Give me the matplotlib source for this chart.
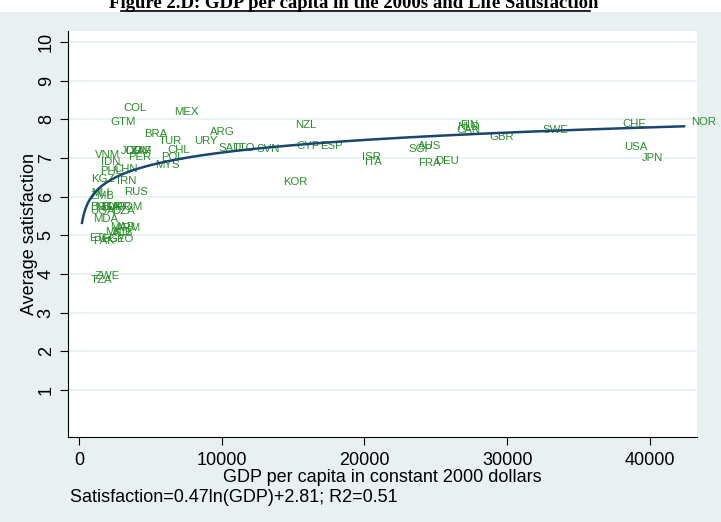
import numpy as np
import matplotlib
matplotlib.use('Agg')
import matplotlib.pyplot as plt
from matplotlib.patches import Rectangle
from matplotlib.lines import Line2D

plt.rcParams['font.family'] = ['Liberation Sans', 'DejaVu Sans']

# data: country code, GDP per capita (constant 2000 $), average satisfaction
countries = ['COL', 'MEX', 'GTM', 'BRA', 'TUR', 'ARG', 'URY', 'SAU', 'TTO', 'SVN',
             'CHL', 'JOR', 'DOM', 'ZAF', 'VNM', 'PER', 'POL', 'MYS', 'IDN', 'CHN',
             'PHL', 'KGZ', 'IRN', 'RUS', 'MLI', 'ZMB', 'BGD', 'NGA', 'BLR', 'UKR',
             'ROM', 'UGA', 'DZA', 'MDA', 'MAR', 'ARM', 'MKD', 'ALB', 'ETH', 'EGY',
             'GEO', 'PAK', 'ZWE', 'TZA', 'NZL', 'CYP', 'ESP', 'ISR', 'ITA', 'KOR',
             'SGP', 'AUS', 'FRA', 'DEU', 'FIN', 'CAN', 'NLD', 'GBR', 'SWE', 'CHE',
             'USA', 'JPN', 'NOR']
gdp = [2600, 6180, 1680, 4070, 5120, 8700, 7580, 9260, 10250, 11930,
       5680, 2460, 2740, 3160, 630, 2950, 5260, 4840, 1050, 1900,
       980, 350, 2180, 2670, 350, 350, 280, 630, 1050, 1470,
       2100, 280, 1820, 490, 1680, 2100, 1330, 1820, 210, 1050,
       1540, 490, 630, 350, 14670, 14740, 16420, 19370, 19580, 13830,
       22600, 23230, 23300, 24490, 26250, 25970, 26040, 28280, 32000, 37610,
       37680, 38950, 42390]
satisfaction = [8.30, 8.20, 7.92, 7.63, 7.43, 7.68, 7.43, 7.25, 7.25, 7.22,
                7.20, 7.17, 7.17, 7.17, 7.07, 7.02, 7.02, 6.81, 6.89, 6.71,
                6.66, 6.45, 6.40, 6.12, 6.10, 6.01, 5.73, 5.73, 5.73, 5.73,
                5.73, 5.63, 5.63, 5.42, 5.22, 5.19, 5.09, 5.06, 4.93, 4.91,
                4.91, 4.86, 3.96, 3.85, 7.86, 7.32, 7.30, 7.02, 6.89, 6.37,
                7.22, 7.30, 6.86, 6.91, 7.86, 7.71, 7.79, 7.53, 7.71, 7.89,
                7.27, 6.99, 7.94]

# fitted log curve, coefficients from the note under the chart
slope = 0.47
intercept = 2.81

fig = plt.figure(figsize=(7.21, 5.22), dpi=100, facecolor='white')
fig.add_artist(Rectangle((0, 0), 1, 1 - 12 / 522, transform=fig.transFigure,
                         facecolor='#e8f0f2', edgecolor='none', zorder=0))

ax = fig.add_axes([68 / 721, 1 - 437 / 522, (697 - 68) / 721, (437 - 31) / 522])
ax.set_facecolor('white')

# labels only (no markers), placed to the right of each point
for c, x, y in zip(countries, gdp, satisfaction):
    ax.annotate(c, (x, y), xytext=(5, 0), textcoords='offset points',
                ha='left', va='center', fontsize=8.2, color='#2a8c2a',
                annotation_clip=False, zorder=3)

xs = np.exp(np.linspace(np.log(min(gdp)), np.log(max(gdp)), 300))
ax.plot(xs, slope * np.log(xs) + intercept, color='#1a476f', lw=1.8, zorder=4)

ax.set_xlim(-770, 43300)
ax.set_ylim(-0.21, 10.28)
ax.set_xticks([0, 10000, 20000, 30000, 40000])
ax.set_yticks(range(1, 11))
ax.set_yticklabels([str(v) for v in range(1, 11)], rotation=90, va='center')
ax.grid(axis='y', color='#e8f0f2', lw=1.2)
ax.set_axisbelow(True)
for s in ['top', 'right']:
    ax.spines[s].set_visible(False)
for s in ['left', 'bottom']:
    ax.spines[s].set_color('black')
    ax.spines[s].set_linewidth(0.8)
ax.tick_params(axis='both', labelsize=13, length=6, width=0.8)
ax.tick_params(axis='x', pad=5)
ax.tick_params(axis='y', pad=3.5)

ax.set_xlabel('GDP per capita in constant 2000 dollars', fontsize=13, labelpad=0)
ax.set_ylabel('Average satisfaction', fontsize=13, labelpad=0)

fig.text(70 / 721, 1 - 498 / 522, 'Satisfaction=0.47ln(GDP)+2.81; R2=0.51',
         fontsize=13, ha='left', va='center')

# title, cut off at the top edge as in the original page
fig.text(0.49, 1 - 8 / 522, 'Figure 2.D: GDP per capita in the 2000s and Life Satisfaction',
         family='Liberation Serif', fontweight='bold', fontsize=13.5,
         ha='center', va='baseline')
fig.add_artist(Line2D([121 / 721, 590 / 721], [1 - 10.5 / 522, 1 - 10.5 / 522],
                      transform=fig.transFigure, color='black', lw=1.2))

fig.savefig('out.png', dpi=100, facecolor=fig.get_facecolor())
